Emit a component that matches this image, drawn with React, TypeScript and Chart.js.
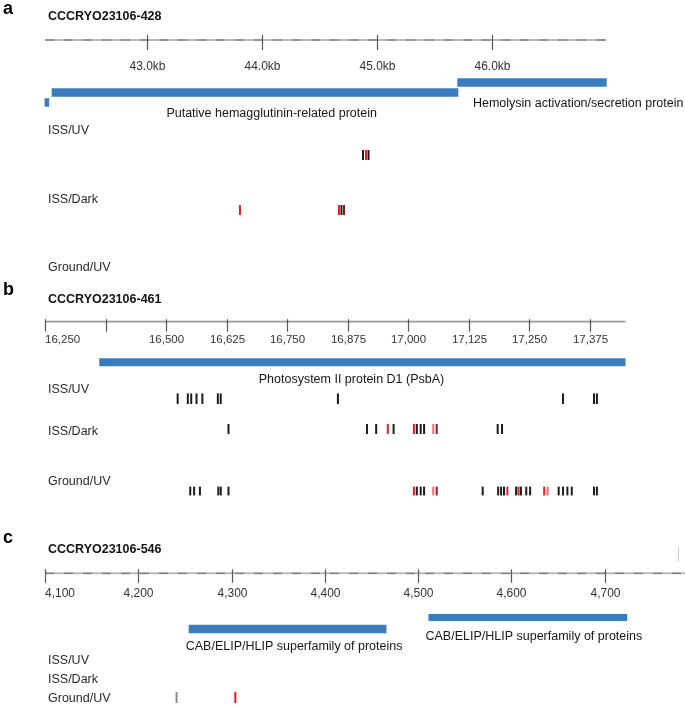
import React, { useEffect, useRef } from 'react';
import { Chart, registerables } from 'chart.js';

Chart.register(...registerables);

// ---------------- DATA ----------------
const rowNames = ['ISS/UV', 'ISS/Dark', 'Ground/UV'];

// Panel a : CCCRYO23106-428
const aTitle = 'CCCRYO23106-428';
const aRange = [42116, 47000];
const aTicks = [43000, 44000, 45000, 46000];
const aTickLabels = ['43.0kb', '44.0kb', '45.0kb', '46.0kb'];
const aGeneNames = ['Putative hemagglutinin-related protein', 'Hemolysin activation/secretion protein', ''];
const aGeneStarts = [42174, 45701, 42112];
const aGeneEnds = [45710, 47000, 42152];
const aUvPos = [44881, 44907, 44929];
const aUvType = ['k', 'r', 'k'];
const aDarkPos = [43811, 44672, 44694, 44716];
const aDarkType = ['r', 'r', 'k', 'd'];
const aGroundPos: number[] = [];
const aGroundType: string[] = [];

// Panel b : CCCRYO23106-461
const bTitle = 'CCCRYO23106-461';
const bRange = [16250, 17449];
const bTicks = [16250, 16375, 16500, 16625, 16750, 16875, 17000, 17125, 17250, 17375];
const bTickLabels = ['16,250', '', '16,500', '16,625', '16,750', '16,875', '17,000', '17,125', '17,250', '17,375'];
const bGeneNames = ['Photosystem II protein D1 (PsbA)'];
const bGeneStarts = [16362];
const bGeneEnds = [17449];
const bUvPos = [16524, 16545, 16552, 16563, 16575, 16607, 16613, 16855, 17320, 17384, 17390];
const bUvType = ['k', 'k', 'k', 'k', 'k', 'k', 'k', 'k', 'k', 'k', 'k'];
const bDarkPos = [16629, 16915, 16934, 16958, 16970, 17012, 17018, 17026, 17033, 17052, 17059, 17185, 17194];
const bDarkType = ['k', 'k', 'k', 'r', 'k', 'r', 'k', 'k', 'k', 'l', 'd', 'k', 'k'];
const bGroundPos = [16550, 16558, 16570, 16608, 16613, 16629, 17012, 17018, 17026, 17033, 17052, 17059, 17154,
  17186, 17192, 17198, 17205, 17223, 17228, 17233, 17244, 17252, 17281, 17288, 17311, 17320, 17329, 17338, 17384, 17390];
const bGroundType = ['k', 'k', 'k', 'k', 'k', 'k', 'r', 'k', 'k', 'k', 'l', 'd', 'k',
  'k', 'k', 'k', 'r', 'k', 'r', 'k', 'k', 'k', 'r', 'l', 'k', 'k', 'k', 'k', 'k', 'k'];

// Panel c : CCCRYO23106-546
const cTitle = 'CCCRYO23106-546';
const cRange = [4100, 4786];
const cTicks = [4100, 4200, 4300, 4400, 4500, 4600, 4700];
const cTickLabels = ['4,100', '4,200', '4,300', '4,400', '4,500', '4,600', '4,700'];
const cGeneNames = ['CAB/ELIP/HLIP superfamily of proteins', 'CAB/ELIP/HLIP superfamily of proteins'];
const cGeneStarts = [4254, 4511];
const cGeneEnds = [4466, 4724];
const cUvPos: number[] = [];
const cUvType: string[] = [];
const cDarkPos: number[] = [];
const cDarkType: string[] = [];
const cGroundPos = [4241, 4304];
const cGroundType = ['g', 'r'];

// ---------------- STYLE / LAYOUT ----------------
const FONT = '"Liberation Sans", Arial, Helvetica, sans-serif';
const BLUE = '#3a7dbf';
const MARK_COLORS: Record<string, string> = {
  k: '#1c1c1c',
  r: '#f01818',
  l: '#f36a6a',
  d: '#8a1b1b',
  g: '#8c8c8c',
};

type Panel = {
  letter: string; title: string; range: number[]; ticks: number[]; tickLabels: string[];
  geneNames: string[]; geneStarts: number[]; geneEnds: number[];
  rows: { pos: number[]; types: string[] }[];
  top: number; height: number; padRight: number;
  letterBase: number; titleBase: number;
  axisY: number; tickUp: number; tickDown: number; tickLabelBase: number; tickFont: number;
  dashed: boolean; firstLabelLeft: boolean;
  geneY: number[]; geneH: number[];
  geneLabelAt: number[]; geneLabelAlign: CanvasTextAlign[]; geneLabelBase: number[];
  rowLabelBase: number[]; rowMarkY: number[]; markR: number[];
  edgeMark?: { x: number; y0: number; y1: number };
};

const panels: Panel[] = [
  {
    letter: 'a', title: aTitle, range: aRange, ticks: aTicks, tickLabels: aTickLabels,
    geneNames: aGeneNames, geneStarts: aGeneStarts, geneEnds: aGeneEnds,
    rows: [{ pos: aUvPos, types: aUvType }, { pos: aDarkPos, types: aDarkType }, { pos: aGroundPos, types: aGroundType }],
    top: 0, height: 280, padRight: 78.3,
    letterBase: 13.5, titleBase: 20,
    axisY: 40, tickUp: 5, tickDown: 10, tickLabelBase: 70, tickFont: 12,
    dashed: true, firstLabelLeft: false,
    geneY: [92.5, 82.5, 102.5], geneH: [8.4, 8.4, 8.4],
    geneLabelAt: [44087, 45837, 0], geneLabelAlign: ['center', 'left', 'left'], geneLabelBase: [116.5, 107.3, 0],
    rowLabelBase: [134, 202.7, 270.5], rowMarkY: [155, 210, 0], markR: [5, 5, 5],
  },
  {
    letter: 'b', title: bTitle, range: bRange, ticks: bTicks, tickLabels: bTickLabels,
    geneNames: bGeneNames, geneStarts: bGeneStarts, geneEnds: bGeneEnds,
    rows: [{ pos: bUvPos, types: bUvType }, { pos: bDarkPos, types: bDarkType }, { pos: bGroundPos, types: bGroundType }],
    top: 280, height: 245, padRight: 59.5,
    letterBase: 15, titleBase: 23.3,
    axisY: 41.7, tickUp: 2.5, tickDown: 10, tickLabelBase: 63.3, tickFont: 11.5,
    dashed: false, firstLabelLeft: true,
    geneY: [82.2], geneH: [8],
    geneLabelAt: [16883], geneLabelAlign: ['center'], geneLabelBase: [103],
    rowLabelBase: [113, 154.5, 204.5], rowMarkY: [118.7, 149, 211], markR: [5.3, 5, 4.4],
  },
  {
    letter: 'c', title: cTitle, range: cRange, ticks: cTicks, tickLabels: cTickLabels,
    geneNames: cGeneNames, geneStarts: cGeneStarts, geneEnds: cGeneEnds,
    rows: [{ pos: cUvPos, types: cUvType }, { pos: cDarkPos, types: cDarkType }, { pos: cGroundPos, types: cGroundType }],
    top: 525, height: 180, padRight: 0,
    letterBase: 18, titleBase: 27.5,
    axisY: 48.3, tickUp: 4, tickDown: 9.4, tickLabelBase: 72, tickFont: 12,
    dashed: true, firstLabelLeft: true,
    geneY: [104, 92.5], geneH: [8.3, 7],
    geneLabelAt: [4367, 4624], geneLabelAlign: ['center', 'center'], geneLabelBase: [124.5, 114.5],
    rowLabelBase: [138.5, 157.5, 177], rowMarkY: [0, 0, 172.5], markR: [5.5, 5.5, 5.5],
    edgeMark: { x: 4779, y0: 22, y1: 37 },
  },
];

function makeDecor(p: Panel) {
  return {
    id: 'genomeDecor',
    beforeDatasetsDraw(chart: any) {
      const ctx = chart.ctx as CanvasRenderingContext2D;
      const xs = chart.scales.x;
      const x0 = xs.getPixelForValue(p.range[0]);
      const x1 = xs.getPixelForValue(p.range[1]);
      ctx.save();
      // ruler line
      ctx.beginPath();
      ctx.moveTo(x0, p.axisY);
      ctx.lineTo(x1, p.axisY);
      ctx.strokeStyle = p.dashed ? '#b8b8b8' : '#999';
      ctx.lineWidth = p.dashed ? 2 : 1.7;
      ctx.stroke();
      if (p.dashed) {
        ctx.beginPath();
        ctx.setLineDash([9, 10]);
        ctx.moveTo(x0, p.axisY);
        ctx.lineTo(x1, p.axisY);
        ctx.strokeStyle = '#707070';
        ctx.lineWidth = 1;
        ctx.stroke();
        ctx.setLineDash([]);
      }
      // ticks + labels
      ctx.font = `${p.tickFont}px ${FONT}`;
      ctx.fillStyle = '#333';
      ctx.textBaseline = 'alphabetic';
      p.ticks.forEach((t, i) => {
        const px = Math.round(xs.getPixelForValue(t)) + 0.5;
        ctx.beginPath();
        ctx.moveTo(px, p.axisY - p.tickUp);
        ctx.lineTo(px, p.axisY + p.tickDown);
        ctx.strokeStyle = '#555';
        ctx.lineWidth = 1.2;
        ctx.stroke();
        const lab = p.tickLabels[i];
        if (lab) {
          ctx.textAlign = i === 0 && p.firstLabelLeft ? 'left' : 'center';
          ctx.fillText(lab, i === 0 && p.firstLabelLeft ? px - 0.5 : px, p.tickLabelBase);
        }
      });
      if (p.edgeMark) {
        const ex = Math.round(xs.getPixelForValue(p.edgeMark.x)) + 0.5;
        ctx.beginPath();
        ctx.moveTo(ex, p.edgeMark.y0);
        ctx.lineTo(ex, p.edgeMark.y1);
        ctx.strokeStyle = '#cfcfcf';
        ctx.lineWidth = 1;
        ctx.stroke();
      }
      ctx.restore();
    },
    afterDatasetsDraw(chart: any) {
      const ctx = chart.ctx as CanvasRenderingContext2D;
      const xs = chart.scales.x;
      ctx.save();
      ctx.textBaseline = 'alphabetic';
      // panel letter
      ctx.font = `bold 18px ${FONT}`;
      ctx.fillStyle = '#000';
      ctx.textAlign = 'left';
      ctx.fillText(p.letter, 3, p.letterBase);
      // title
      ctx.font = `bold 12.5px ${FONT}`;
      ctx.fillStyle = '#111';
      ctx.fillText(p.title, 48, p.titleBase);
      // gene labels
      ctx.font = `12.5px ${FONT}`;
      ctx.fillStyle = '#161616';
      p.geneNames.forEach((n, i) => {
        if (!n) return;
        ctx.textAlign = p.geneLabelAlign[i];
        ctx.fillText(n, xs.getPixelForValue(p.geneLabelAt[i]), p.geneLabelBase[i]);
      });
      // row labels
      ctx.textAlign = 'left';
      ctx.fillStyle = '#2a2a2a';
      rowNames.forEach((n, i) => {
        ctx.fillText(n, 48, p.rowLabelBase[i]);
      });
      ctx.restore();
    },
  };
}

function PanelChart({ p }: { p: Panel }) {
  const ref = useRef<HTMLCanvasElement>(null);
  useEffect(() => {
    if (!ref.current) return;
    const datasets: any[] = [];
    p.geneStarts.forEach((s, i) => {
      datasets.push({
        type: 'scatter',
        showLine: true,
        data: [{ x: s, y: p.geneY[i] }, { x: p.geneEnds[i], y: p.geneY[i] }],
        borderColor: BLUE,
        borderWidth: p.geneH[i],
        borderCapStyle: 'butt',
        pointRadius: 0,
        pointHoverRadius: 0,
        clip: false,
      });
    });
    p.rows.forEach((row, r) => {
      if (!row.pos.length) return;
      datasets.push({
        type: 'scatter',
        showLine: false,
        data: row.pos.map((x) => ({ x, y: p.rowMarkY[r] })),
        pointStyle: 'line',
        pointRotation: 90,
        pointRadius: p.markR[r],
        pointHoverRadius: p.markR[r],
        pointBorderWidth: 2,
        pointHoverBorderWidth: 2,
        pointBorderColor: row.types.map((t) => MARK_COLORS[t]),
        pointBackgroundColor: row.types.map((t) => MARK_COLORS[t]),
        clip: false,
      });
    });
    const chart = new Chart(ref.current, {
      type: 'scatter',
      data: { datasets },
      options: {
        responsive: false,
        animation: false,
        devicePixelRatio: 1,
        events: [],
        layout: { autoPadding: false, padding: { left: 45, right: p.padRight, top: 0, bottom: 0 } },
        scales: {
          x: { type: 'linear', min: p.range[0], max: p.range[1], display: false },
          y: { type: 'linear', min: 0, max: p.height, reverse: true, display: false },
        },
        plugins: { legend: { display: false }, tooltip: { enabled: false } },
      },
      plugins: [makeDecor(p)],
    } as any);
    return () => chart.destroy();
  }, [p]);
  return (
    <canvas
      ref={ref}
      width={685}
      height={p.height}
      style={{ position: 'absolute', left: 0, top: p.top, width: 685, height: p.height, display: 'block' }}
    />
  );
}

export default function App() {
  return (
    <div style={{ position: 'absolute', left: 0, top: 0, width: 685, height: 705, background: '#fff', overflow: 'hidden' }}>
      {panels.map((p) => (
        <PanelChart key={p.letter} p={p} />
      ))}
    </div>
  );
}
